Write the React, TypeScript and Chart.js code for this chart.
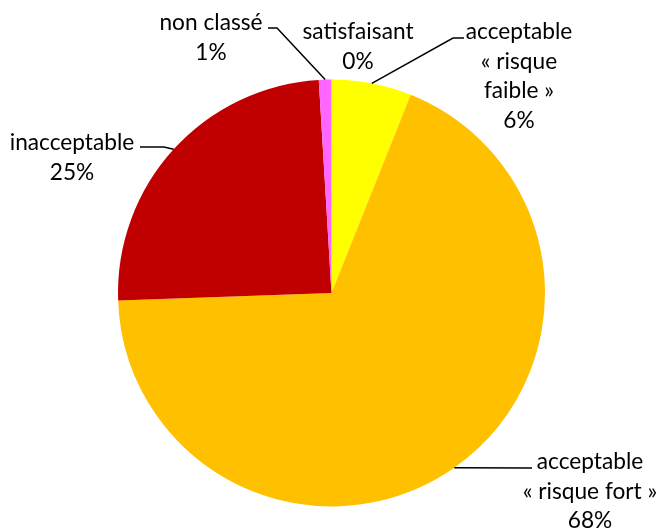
import React, { useEffect, useRef } from "react";
import { Chart, registerables } from "chart.js";

Chart.register(...registerables);

// ---- data ----
const categories = [
  "satisfaisant",
  "acceptable\n« risque\nfaible »",
  "acceptable\n« risque fort »",
  "inacceptable",
  "non classé",
];
const values = [0, 6.05, 68.4, 24.6, 0.95];
const colors = ["#92D050", "#FFFF00", "#FFC000", "#C00000", "#FF66FF"];

// ---- label layout (style only) ----
type LabelLayout = { x: number; y: number; path: [number, number][] };
const labelLayout: LabelLayout[] = [
  { x: 358, y: 32, path: [] },
  { x: 519, y: 32, path: [[453, 38], [464, 38]] },
  { x: 590, y: 462, path: [[532, 468]] },
  { x: 72, y: 143, path: [[164, 147], [140, 147]] },
  { x: 211, y: 23, path: [[277, 28], [268, 28]] },
];
const LINE_H = 29.5;
const FONT = "22.7px Lato, 'Liberation Sans', sans-serif";

const labelPlugin = {
  id: "pieLabels",
  afterDatasetsDraw(chart: any) {
    const ctx = chart.ctx;
    const meta = chart.getDatasetMeta(0);
    const data = chart.data.datasets[0].data as number[];
    const total = data.reduce((a, b) => a + b, 0);
    ctx.save();
    meta.data.forEach((arc: any, i: number) => {
      const lay = labelLayout[i];
      const v = data[i];
      const pct = Math.round((v / total) * 100) + "%";
      // leader line
      if (lay.path.length && v > 0) {
        const mid = (arc.startAngle + arc.endAngle) / 2;
        const ax = arc.x + Math.cos(mid) * arc.outerRadius;
        const ay = arc.y + Math.sin(mid) * arc.outerRadius;
        ctx.beginPath();
        ctx.moveTo(ax, ay);
        lay.path.forEach(([px, py]) => ctx.lineTo(px, py));
        ctx.strokeStyle = "#000";
        ctx.lineWidth = 1.5;
        ctx.stroke();
      }
      const lines = String(chart.data.labels[i]).split("\n").concat([pct]);
      ctx.fillStyle = "#000";
      ctx.font = FONT;
      ctx.textAlign = "center";
      ctx.textBaseline = "middle";
      lines.forEach((t: string, k: number) => {
        ctx.fillText(t, lay.x, lay.y + k * LINE_H);
      });
    });
    ctx.restore();
  },
};

export default function App() {
  const ref = useRef<HTMLCanvasElement>(null);
  useEffect(() => {
    const chart = new Chart(ref.current!, {
      type: "pie",
      data: {
        labels: categories,
        datasets: [
          {
            data: values,
            backgroundColor: colors,
            borderWidth: 0,
          },
        ],
      },
      options: {
        animation: false,
        responsive: false,
        layout: { padding: { left: 118, right: 117, top: 79.5, bottom: 22.5 } },
        plugins: {
          legend: { display: false },
          tooltip: { enabled: false },
        },
      },
      plugins: [labelPlugin],
    });
    return () => chart.destroy();
  }, []);
  return (
    <div style={{ position: "fixed", left: 0, top: 0, width: 662, height: 529, background: "#fff" }}>
      <canvas ref={ref} width={662} height={529} />
    </div>
  );
}
